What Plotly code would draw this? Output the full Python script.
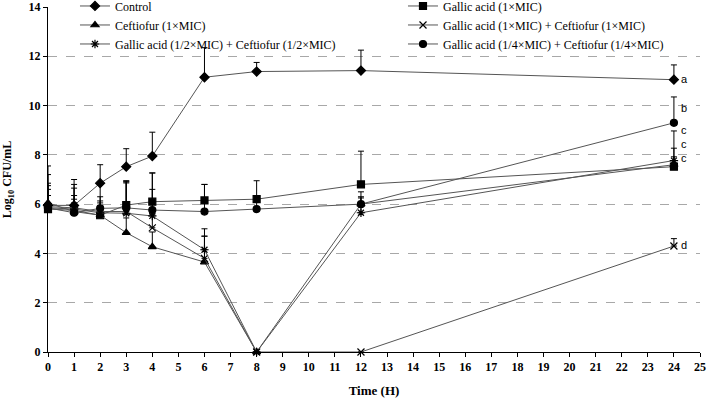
import plotly.graph_objects as go

# ---- data ----
times = [0, 1, 2, 3, 4, 6, 8, 12, 24]

series_names = [
    "Control",
    "Gallic acid (1×MIC)",
    "Ceftiofur (1×MIC)",
    "Gallic acid (1×MIC) + Ceftiofur (1×MIC)",
    "Gallic acid (1/2×MIC) + Ceftiofur (1/2×MIC)",
    "Gallic acid (1/4×MIC) + Ceftiofur (1/4×MIC)",
]

control = [5.95, 5.95, 6.85, 7.52, 7.95, 11.15, 11.38, 11.42, 11.05]
control_err = [1.6, 1.05, 0.75, 0.73, 0.97, 1.2, 0.37, 0.83, 0.6]

gallic_1 = [5.8, 5.75, 5.55, 5.96, 6.1, 6.15, 6.2, 6.8, 7.52]
gallic_1_err = [0.8, 0.6, 0.4, 0.9, 0.5, 0.65, 0.75, 1.35, 0.4]

ceftiofur_1 = [6.05, 5.7, 5.55, 4.84, 4.27, 3.65, 0, 6.0, 7.6]
ceftiofur_1_err = [0.7, 0.5, 0.5, 0.6, 0.6, 1.05, 0, 0.5, 1.37]

combo_1 = [5.9, 5.85, 5.7, 5.7, 5.04, 3.8, 0, 0, 4.3]
combo_1_err = [1.3, 0.8, 0.6, 1.25, 0.55, 0.9, 0, 0, 0.3]

combo_half = [5.85, 5.8, 5.65, 5.63, 5.52, 4.15, 0, 5.65, 7.77]
combo_half_err = [1.0, 1.0, 1.2, 1.3, 1.75, 0.85, 0, 0.6, 0.5]

combo_quarter = [5.85, 5.65, 5.83, 5.85, 5.76, 5.7, 5.8, 6.0, 9.3]
combo_quarter_err = [0.5, 0.4, 0.3, 1.05, 1.5, 1.1, 0.3, 0.3, 1.05]

sig_letters = ["a", "b", "c", "c", "c", "d"]
sig_y = [11.05, 9.85, 8.95, 8.4, 7.85, 4.3]
sig_x = 24

x_ticks = list(range(0, 26))
y_ticks = list(range(0, 15, 2))
grid_ticks = list(range(2, 13, 2))

# ---- styles ----
values = [control, gallic_1, ceftiofur_1, combo_1, combo_half, combo_quarter]
errors = [control_err, gallic_1_err, ceftiofur_1_err, combo_1_err, combo_half_err, combo_quarter_err]
symbols = ["diamond", "square", "triangle-up", "x-thin-open", "asterisk-open", "circle"]
sizes = [7, 7, 7, 7, 7, 7]

SERIF = "Liberation Serif, Times New Roman, serif"

fig = go.Figure()
for name, y, e, sym, sz in zip(series_names, values, errors, symbols, sizes):
    fig.add_trace(go.Scatter(
        x=times, y=y, name=name, mode="lines+markers",
        line=dict(color="#555555", width=1),
        marker=dict(symbol=sym, size=sz, color="black",
                    line=dict(color="black", width=1.2)),
        error_y=dict(type="data", symmetric=False, array=e,
                     arrayminus=[0] * len(e), color="black",
                     thickness=1, width=3),
        cliponaxis=False,
    ))

# invisible trace to drive the dashed grid axis
fig.add_trace(go.Scatter(x=[None], y=[None], yaxis="y2", showlegend=False,
                         hoverinfo="skip"))

for letter, yy in zip(sig_letters, sig_y):
    fig.add_annotation(x=sig_x, y=yy, text=letter, showarrow=False,
                       xanchor="left", xshift=5, yshift=1,
                       font=dict(family="Liberation Sans, Arial, sans-serif",
                                 size=11, color="black"))

fig.update_layout(
    width=709, height=399,
    margin=dict(l=48, r=9, t=7, b=47, autoexpand=False),
    plot_bgcolor="white", paper_bgcolor="white",
    font=dict(family=SERIF, color="black"),
    showlegend=True,
    legend=dict(orientation="h", x=0.0414, y=1.045, xanchor="left",
                yanchor="top",
                entrywidth=283, entrywidthmode="pixels",
                font=dict(family=SERIF, size=12, color="black"),
                bgcolor="rgba(0,0,0,0)", itemwidth=30,
                tracegroupgap=0),
    xaxis=dict(range=[0, 25], tickvals=x_ticks, showgrid=False,
               zeroline=False, showline=True, linecolor="black",
               linewidth=1, ticks="outside", ticklen=4, tickcolor="black",
               automargin=False,
               tickfont=dict(family=SERIF, size=12, color="black",
                             weight="bold"),
               title=dict(text="<b>Time (H)</b>", standoff=12,
                          font=dict(family=SERIF, size=13))),
    yaxis=dict(range=[0, 14], tickvals=y_ticks, showgrid=False,
               zeroline=False, showline=True, linecolor="black",
               linewidth=1, ticks="outside", ticklen=4, tickcolor="black",
               automargin=False,
               tickfont=dict(family=SERIF, size=12, color="black",
                             weight="bold"),
               title=dict(text="<b>Log<sub>10</sub> CFU/mL</b>", standoff=14,
                          font=dict(family=SERIF, size=12))),
    yaxis2=dict(range=[0, 14], overlaying="y", tickvals=grid_ticks,
                showticklabels=False, showgrid=True, gridcolor="#a8a8a8",
                griddash="dash", gridwidth=1, zeroline=False, showline=False,
                ticks="", layer="below traces", automargin=False),
)

fig.write_html("out.html",
               config={"displayModeBar": False},
               post_script="document.body.style.margin='0';")
